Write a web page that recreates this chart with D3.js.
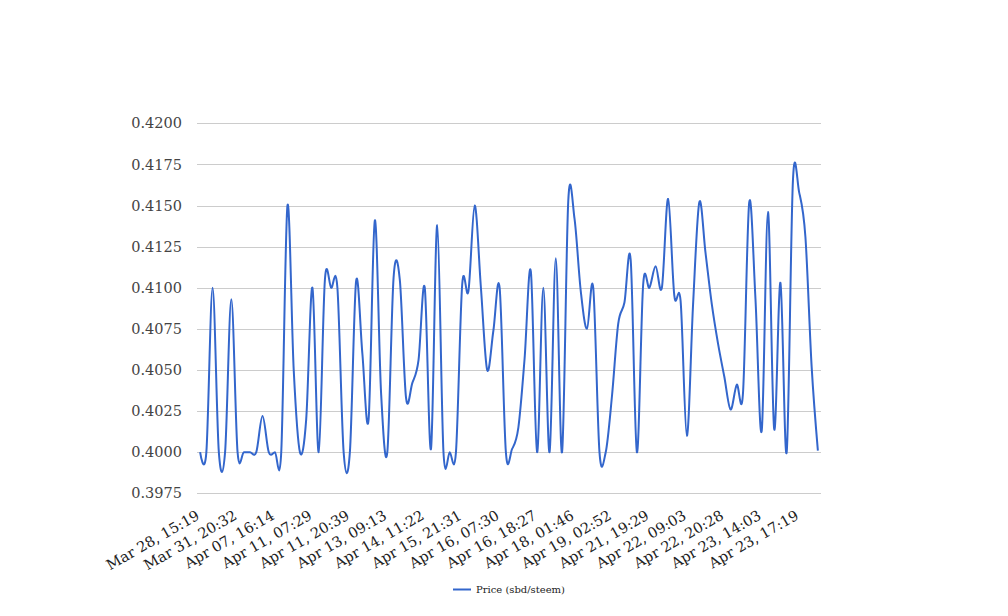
<!DOCTYPE html>
<html>
<head>
<meta charset="utf-8">
<script src="https://cdn.jsdelivr.net/npm/d3@7"></script>
<style>
  html, body { margin: 0; padding: 0; background: #fff; }
  svg { display: block; font-family: "DejaVu Serif", serif; }
</style>
</head>
<body>
<svg id="chart" width="1008" height="616"></svg>
<script>
// ---- data ----
const seriesName = "Price (sbd/steem)";
const prices = [
  0.4000, 0.4000, 0.4100, 0.4000, 0.4000, 0.4093, 0.4000, 0.4000, 0.4000, 0.4000,
  0.4022, 0.4000, 0.4000, 0.4000, 0.4150, 0.4050, 0.4000, 0.4020, 0.4100, 0.4000,
  0.4105, 0.4100, 0.4100, 0.4000, 0.4000, 0.4104, 0.4060, 0.4020, 0.4141, 0.4036,
  0.4000, 0.4106, 0.4105, 0.4033, 0.4042, 0.4056, 0.4100, 0.4002, 0.4138, 0.4000,
  0.4000, 0.4000, 0.4102, 0.4098, 0.4150, 0.4100, 0.4050, 0.4074, 0.4100, 0.4000,
  0.4002, 0.4015, 0.4057, 0.4110, 0.4000, 0.4100, 0.4000, 0.4118, 0.4000, 0.4153,
  0.4142, 0.4098, 0.4075, 0.4100, 0.4000, 0.4000, 0.4034, 0.4078, 0.4091, 0.4117,
  0.4000, 0.4102, 0.4100, 0.4113, 0.4100, 0.4154, 0.4095, 0.4092, 0.4010, 0.4090,
  0.4152, 0.4121, 0.4090, 0.4066, 0.4046, 0.4026, 0.4041, 0.4036, 0.4152, 0.4093,
  0.4013, 0.4146, 0.4014, 0.4103, 0.4000, 0.4165, 0.4158, 0.4131, 0.4052, 0.4001
];
// labels shown on the x axis (every 6th category)
const xTickLabels = [
  "Mar 28, 15:19", "Mar 31, 20:32", "Apr 07, 16:14", "Apr 11, 07:29",
  "Apr 11, 20:39", "Apr 13, 09:13", "Apr 14, 11:22", "Apr 15, 21:31",
  "Apr 16, 07:30", "Apr 16, 18:27", "Apr 18, 01:46", "Apr 19, 02:52",
  "Apr 21, 19:29", "Apr 22, 09:03", "Apr 22, 20:28", "Apr 23, 14:03",
  "Apr 23, 17:19"
];
const labelEvery = 6;
const yTicks = [0.3975, 0.4000, 0.4025, 0.4050, 0.4075, 0.4100, 0.4125, 0.4150, 0.4175, 0.4200];

// ---- layout ----
const svg = d3.select("#chart");
const plotLeft = 197, plotRight = 821, plotTop = 123.3, plotBottom = 493.3;

const x = d3.scalePoint()
  .domain(d3.range(prices.length))
  .range([plotLeft, plotRight])
  .padding(0.5);
const y = d3.scaleLinear()
  .domain([yTicks[0], yTicks[yTicks.length - 1]])
  .range([plotBottom, plotTop]);

// gridlines + y labels
const yAxis = d3.axisLeft(y)
  .tickValues(yTicks)
  .tickSize(-(plotRight - plotLeft))
  .tickPadding(15)
  .tickFormat(d3.format(".4f"));
const gy = svg.append("g")
  .attr("transform", `translate(${plotLeft},0)`)
  .call(yAxis);
gy.select(".domain").remove();
gy.selectAll(".tick line").attr("stroke", "#cccccc").attr("stroke-width", 1).attr("shape-rendering", "crispEdges");
gy.selectAll(".tick text")
  .attr("fill", "#444")
  .style("font-family", "DejaVu Serif")
  .style("font-size", "14.5px");

// x labels
const xTickIdx = xTickLabels.map((_, i) => i * labelEvery);
const xAxis = d3.axisBottom(x)
  .tickValues(xTickIdx)
  .tickSize(0)
  .tickFormat((d) => xTickLabels[d / labelEvery]);
const gx = svg.append("g")
  .attr("transform", `translate(0,${plotBottom})`)
  .call(xAxis);
gx.select(".domain").remove();
gx.selectAll(".tick text")
  .attr("fill", "#222")
  .style("font-family", "DejaVu Serif")
  .style("font-size", "14.5px")
  .attr("text-anchor", "end")
  .attr("dy", null)
  .attr("y", null)
  .attr("transform", "translate(0,25) rotate(-30)");

// line
const line = d3.line()
  .x((d, i) => x(i))
  .y((d) => y(d))
  .curve(d3.curveCardinal.tension(0));
svg.append("path")
  .datum(prices)
  .attr("fill", "none")
  .attr("stroke", "#3366cc")
  .attr("stroke-width", 2)
  .attr("stroke-linejoin", "round")
  .attr("d", line);

// legend
const lg = svg.append("g").attr("transform", "translate(453,589.5)");
lg.append("line").attr("x1", 0).attr("x2", 18).attr("y1", 0).attr("y2", 0)
  .attr("stroke", "#3366cc").attr("stroke-width", 2);
lg.append("text").attr("x", 23).attr("y", 3.6)
  .attr("fill", "#222")
  .style("font-size", "10px")
  .text(seriesName);
</script>
</body>
</html>
